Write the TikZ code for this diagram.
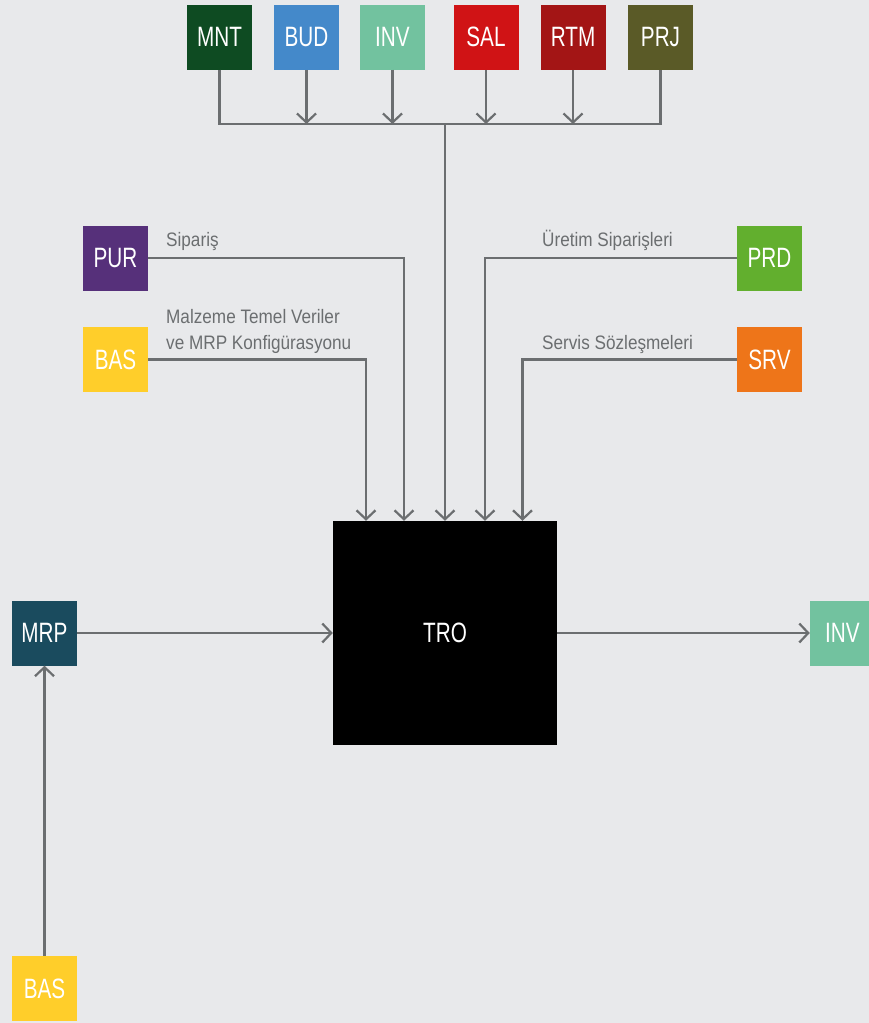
\documentclass[tikz,border=0pt]{standalone}
\usepackage{fontspec}
\setmainfont{Liberation Sans}
\newfontfamily\boxfont[FakeStretch=0.74]{Liberation Sans}
\newfontfamily\notefont[FakeStretch=0.88]{Liberation Sans}
\usetikzlibrary{arrows.meta,positioning}

\definecolor{bgcol}{HTML}{E8E9EB}
\definecolor{linecol}{HTML}{6B6E70}
\definecolor{mntcol}{HTML}{0E4B22}
\definecolor{budcol}{HTML}{4489CA}
\definecolor{invcol}{HTML}{72C29F}
\definecolor{salcol}{HTML}{D01315}
\definecolor{rtmcol}{HTML}{A31515}
\definecolor{prjcol}{HTML}{5A5A27}
\definecolor{purcol}{HTML}{56307A}
\definecolor{bascol}{HTML}{FFCE2A}
\definecolor{prdcol}{HTML}{62AF2E}
\definecolor{srvcol}{HTML}{EE7519}
\definecolor{mrpcol}{HTML}{1A4B5E}

\tikzset{
  module/.style={minimum width=65pt, minimum height=65pt, inner sep=0pt, text=white,
    font=\boxfont\fontsize{28}{28}\selectfont},
  flow/.style={draw=linecol, line width=2.2pt},
  feed/.style={flow, -{Straight Barb[length=9pt,width=19pt]}},
  note/.style={text=linecol, anchor=base west, inner sep=0pt, align=left,
    font=\notefont\fontsize{19.5}{26}\selectfont}
}

\begin{document}
\begin{tikzpicture}[x=1pt,y=-1pt]

    \fill[bgcol] (0,0) rectangle (869,1023);
    \useasboundingbox (0,0) rectangle (869,1023);
    \clip (0,0) rectangle (869,1023);

    % top row
    \node[module, fill=mntcol] (mnt) at (219.5,37) {MNT};
    \node[module, fill=budcol] (bud) at (306.5,37) {BUD};
    \node[module, fill=invcol] (invtop) at (392.5,37) {INV};
    \node[module, fill=salcol] (sal) at (486,37) {SAL};
    \node[module, fill=rtmcol] (rtm) at (573,37) {RTM};
    \node[module, fill=prjcol] (prj) at (660.5,37) {PRJ};
    \coordinate (bus) at (445,124);

    % sides
    \node[module, fill=purcol] (pur) at (115.5,258) {PUR};
    \node[module, fill=bascol] (bastop) at (115.5,359.5) {BAS};
    \node[module, fill=prdcol] (prd) at (769.5,258) {PRD};
    \node[module, fill=srvcol] (srv) at (769.5,359.5) {SRV};

    \node[module, fill=black, minimum width=224pt, minimum height=224pt] (tro) at (445,633) {TRO};
    \node[module, fill=mrpcol] (mrp) at (44.5,633) {MRP};
    \node[module, fill=invcol] (invout) at (842.5,633) {INV};
    \node[module, fill=bascol] (basbot) at (44.5,988.5) {BAS};

    \node[note] (ordernote) at (166,246) {Sipariş};
    \node[note] (masternote) at (166,349) {Malzeme Temel Veriler\\ve MRP Konfigürasyonu};
    \node[note] (prodnote) at (542,246) {Üretim Siparişleri};
    \node[note] (servnote) at (542,349) {Servis Sözleşmeleri};

    % bus
    \draw[flow] (mnt.south) -- (mnt.south |- bus) -- (prj.south |- bus) -- (prj.south);
    \draw[feed] (bud.south) -- (bud.south |- bus);
    \draw[feed] (invtop.south) -- (invtop.south |- bus);
    \draw[feed] (sal.south) -- (sal.south |- bus);
    \draw[feed] (rtm.south) -- (rtm.south |- bus);
    \draw[feed] (bus) -- (tro.north);

    \draw[feed] (bastop.east) -| ([xshift=-79pt]tro.north);
    \draw[feed] (pur.east) -| ([xshift=-41pt]tro.north);
    \draw[feed] (prd.west) -| ([xshift=40pt]tro.north);
    \draw[feed] (srv.west) -| ([xshift=77.5pt]tro.north);

    \draw[feed] (mrp.east) -- (tro.west);
    \draw[feed] (tro.east) -- (invout.west);
    \draw[feed] (basbot.north) -- (mrp.south);
\end{tikzpicture}
\end{document}
